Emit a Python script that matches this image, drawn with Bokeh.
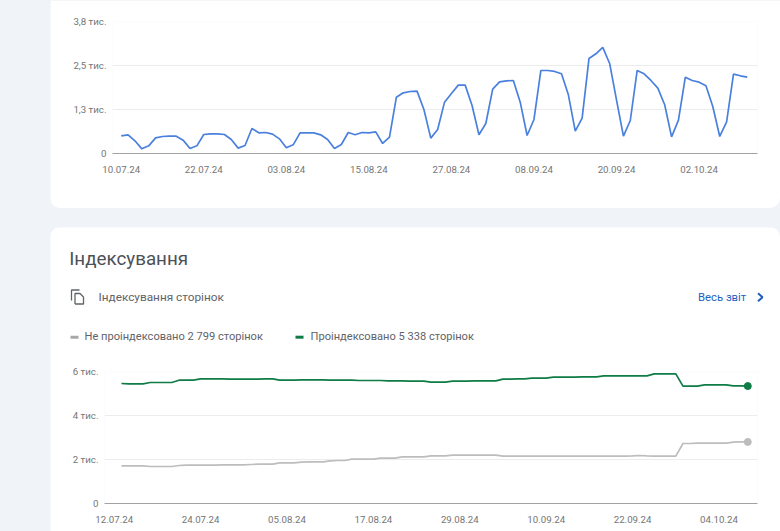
from bokeh.core.properties import value
from bokeh.embed import file_html
from bokeh.layouts import column
from bokeh.models import FixedTicker, Range1d
from bokeh.plotting import figure
from bokeh.resources import INLINE

## data ##

clicks_ticks = [0, 12, 24, 36, 48, 60, 72, 84]
clicks_labels = ["10.07.24", "22.07.24", "03.08.24", "15.08.24", "27.08.24", "08.09.24", "20.09.24", "02.10.24"]
clicks_yticks = [0, 1267, 2533, 3800]
clicks_ylabels = ["0", "1,3 тис.", "2,5 тис.", "3,8 тис."]
clicks = [
    510, 538, 365, 134, 221, 451, 490, 499, 499, 384, 144, 221, 547, 566, 566, 547,
    403, 154, 230, 720, 595, 605, 557, 422, 163, 250, 595, 595, 595, 538, 403, 144,
    259, 605, 538, 605, 595, 624, 288, 470, 1622, 1747, 1785, 1795, 1267, 442, 691, 1478,
    1728, 1968, 1968, 1382, 538, 864, 1853, 2064, 2093, 2102, 1478, 518, 979, 2390, 2390, 2362,
    2294, 1690, 643, 1018, 2736, 2870, 3053, 2592, 1536, 499, 950, 2390, 2294, 2102, 1882, 1402,
    480, 960, 2198, 2102, 2054, 1949, 1344, 490, 912, 2285, 2237, 2198,
]

index_ticks = [0, 12, 24, 36, 48, 60, 72, 84]
index_labels = ["12.07.24", "24.07.24", "05.08.24", "17.08.24", "29.08.24", "10.09.24", "22.09.24", "04.10.24"]
index_yticks = [0, 2000, 4000, 6000]
index_ylabels = ["0", "2 тис.", "4 тис.", "6 тис."]
indexed = [
    5454, 5439, 5439, 5439, 5499, 5499, 5499, 5499, 5605, 5605, 5605, 5666, 5666, 5666, 5666,
    5651, 5651, 5651, 5651, 5651, 5666, 5666, 5605, 5605, 5605, 5620, 5620, 5620, 5620, 5605,
    5605, 5605, 5605, 5590, 5590, 5590, 5590, 5575, 5575, 5575, 5560, 5560, 5560, 5515, 5515,
    5515, 5560, 5560, 5560, 5575, 5575, 5575, 5575, 5651, 5651, 5666, 5666, 5696, 5696, 5696,
    5742, 5742, 5742, 5742, 5757, 5757, 5757, 5802, 5802, 5802, 5802, 5802, 5802, 5802, 5893,
    5893, 5893, 5893, 5333, 5333, 5333, 5393, 5393, 5393, 5393, 5348, 5348, 5338,
]
not_indexed = [
    1712, 1712, 1712, 1712, 1682, 1682, 1682, 1682, 1727, 1742, 1742, 1742, 1742, 1742, 1757,
    1757, 1757, 1757, 1773, 1788, 1788, 1788, 1848, 1848, 1848, 1879, 1894, 1894, 1894, 1939,
    1954, 1954, 2015, 2015, 2015, 2015, 2060, 2060, 2060, 2121, 2121, 2121, 2121, 2166, 2166,
    2166, 2197, 2197, 2197, 2197, 2197, 2197, 2197, 2151, 2151, 2151, 2151, 2151, 2151, 2151,
    2151, 2151, 2151, 2151, 2151, 2151, 2151, 2151, 2151, 2151, 2151, 2166, 2182, 2166, 2151,
    2151, 2151, 2151, 2727, 2727, 2742, 2742, 2742, 2742, 2742, 2788, 2799, 2799,
]

## styles ##

BG = "#f0f3f8"
FONT = "Roboto"
TICK_COLOR = "#757575"
TEXT_COLOR = "#5f6368"
LINK_COLOR = "#1f5fbf"
GREY = "#bdbdbd"
GREEN = "#0f7b45"


def chart(height, left, bottom_gap, x_range, y_end, xticks, xlabels, yticks, ylabels, margin, radius):
    p = figure(width=730, height=height, x_range=Range1d(*x_range), y_range=Range1d(0, y_end),
               output_backend="svg", toolbar_location=None, frame_align=False, margin=margin,
               min_border_left=left, min_border_right=23, min_border_top=21, min_border_bottom=bottom_gap,
               border_fill_color="white", background_fill_color="white", outline_line_color=None,
               styles={"border-radius": radius, "overflow": "hidden"})
    p.xaxis.ticker = FixedTicker(ticks=xticks)
    p.xaxis.major_label_overrides = dict(zip(xticks, xlabels))
    p.yaxis.ticker = FixedTicker(ticks=yticks)
    p.yaxis.major_label_overrides = dict(zip(yticks, ylabels))
    for ax in (p.xaxis, p.yaxis):
        ax.major_tick_line_color = None
        ax.minor_tick_line_color = None
        ax.major_label_text_font = FONT
        ax.major_label_text_font_size = "9.7px"
        ax.major_label_text_color = TICK_COLOR
    p.xaxis.axis_line_color = "#a0a3a6"
    p.xaxis.major_label_standoff = 6
    p.yaxis.axis_line_color = None
    p.yaxis.major_label_standoff = 0
    p.xgrid.grid_line_color = None
    p.ygrid.grid_line_color = "#ececee"
    return p


## top card ##

top = chart(208, 62, 55, (-1.265, 92.49), 3800, clicks_ticks, clicks_labels, clicks_yticks, clicks_ylabels,
            (0, 0, 19, 50), "0 0 10px 10px")
top.line(list(range(len(clicks))), clicks, line_color="#4a80de", line_width=1.7)

## header of the second card ##

head = figure(width=730, height=124, x_range=Range1d(50, 780), y_range=Range1d(351, 227),
              output_backend="svg", toolbar_location=None, frame_align=False, margin=(0, 0, -1, 50),
              min_border=0, min_border_left=0, min_border_right=0, min_border_top=0, min_border_bottom=0,
              border_fill_color="white", background_fill_color="white", outline_line_color=None,
              styles={"border-radius": "10px 10px 0 0", "overflow": "hidden"})
head.axis.visible = False
head.grid.visible = False


def head_text(x, y, text, size, color):
    head.text([x], [y], text=[text], text_font=value(FONT), text_font_size=size, text_color=color,
              text_baseline="middle", text_align="left")


head_text(68.7, 258, "Індексування", "18.8px", "#4d5156")
head_text(98, 296.5, "Індексування сторінок", "11.8px", TEXT_COLOR)
head_text(697.5, 296.5, "Весь звіт", "11.3px", LINK_COLOR)
head_text(84, 336, "Не проіндексовано 2 799 сторінок", "11.1px", TEXT_COLOR)
head_text(310, 336, "Проіндексовано 5 338 сторінок", "11.1px", TEXT_COLOR)

# copy icon, chevron and the legend dashes
head.multi_line([[71, 71, 79], [74.5, 74.5, 79.5, 83, 83, 74.5]],
                [[300, 289.5, 289.5], [303.5, 293, 293, 296.5, 303.5, 303.5]],
                line_color=TEXT_COLOR, line_width=1.3)
head.line([757.5, 762, 757.5], [292.7, 296.7, 300.7], line_color=LINK_COLOR, line_width=2)
head.line([70, 78], [336.7, 336.7], line_color="#a8a8a8", line_width=3)
head.line([295, 303], [336.7, 336.7], line_color=GREEN, line_width=3)

## bottom of the second card ##

bottom = chart(181, 54, 28, (-1.35, 89.35), 6000, index_ticks, index_labels, index_yticks, index_ylabels,
               (0, 0, 0, 50), "0")
days = list(range(1, len(indexed) + 1))
bottom.line(days, not_indexed, line_color=GREY, line_width=1.7)
bottom.line(days, indexed, line_color=GREEN, line_width=1.7)
bottom.scatter(days[-1:], not_indexed[-1:], size=7, color=GREY)
bottom.scatter(days[-1:], indexed[-1:], size=7, color=GREEN)

page = column(top, head, bottom, spacing=0, styles={"background-color": BG})

open("out.html", "w").write(file_html(page, INLINE))
